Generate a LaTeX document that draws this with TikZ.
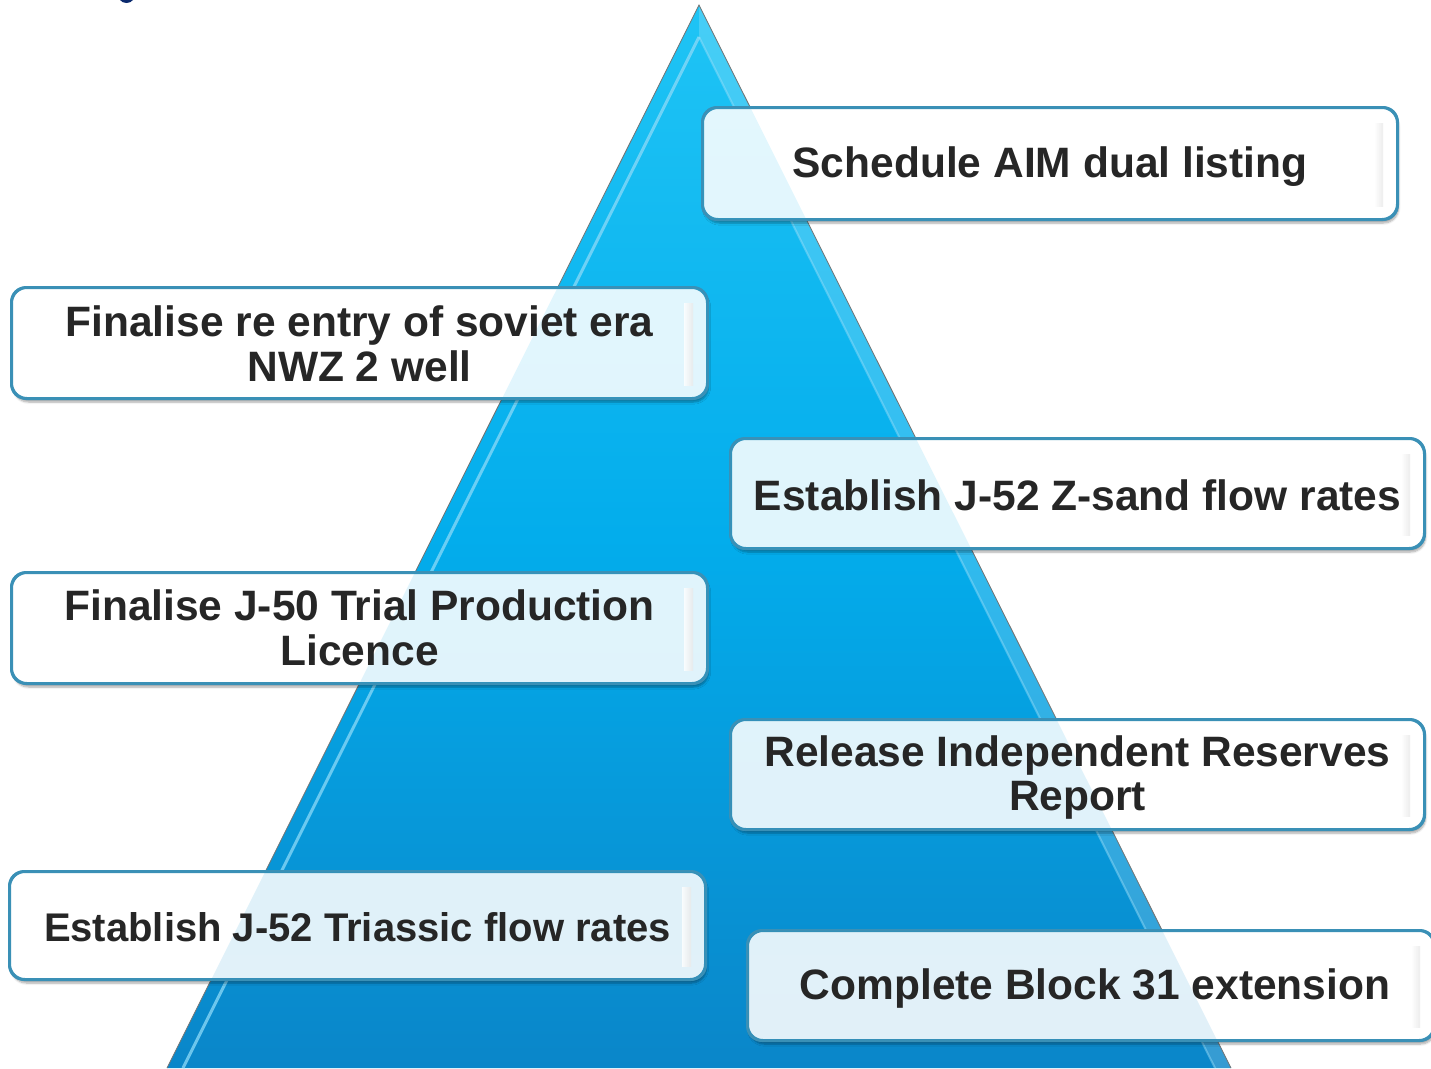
\documentclass[tikz,border=0pt]{standalone}
\usepackage{fontspec}
\setmainfont{Liberation Sans}
\usetikzlibrary{shadows.blur}
\definecolor{tritop}{HTML}{1FC4F5}
\definecolor{trimid}{HTML}{03ADEC}
\definecolor{tribot}{HTML}{0A86C9}
\definecolor{boxline}{HTML}{3A90B6}
\definecolor{txt}{HTML}{262626}
\definecolor{navy}{HTML}{0B2A6E}
\tikzset{
  boxshape/.style={draw=boxline, line width=2pt, rounded corners=15pt,
    fill=white, inner sep=0pt,
    blur shadow={shadow blur steps=6, shadow xshift=1.5pt, shadow yshift=-4pt, shadow opacity=35}},
  boxtext/.style={text=txt, font=\fontsize{42.5}{44.5}\selectfont\bfseries, align=center, inner sep=0pt},
  smalltext/.style={boxtext, font=\fontsize{40}{42}\selectfont\bfseries},
}
\newcommand{\pyr}[1]{%
  \shade[top color=tritop, bottom color=tribot, middle color=trimid, #1] (apex) -- (bl) -- (br) -- cycle;}
\newcommand{\goalbox}[5]{% name, center, width, height, border-only redraw
  \node[boxshape, minimum width=#3, minimum height=#4] (#1) at #2 {};
  \begin{scope}
    \clip[rounded corners=15pt] (#1.south west) rectangle (#1.north east);
    \pyr{opacity=0.12}
    \shade[left color=white, right color=black!9, opacity=0.8] ([xshift=-24pt,yshift=-16pt]#1.north east) rectangle ([xshift=-15pt,yshift=14pt]#1.south east);
  \end{scope}
  \draw[boxline, line width=2pt, rounded corners=15pt] (#1.south west) rectangle (#1.north east);
}
\begin{document}
\begin{tikzpicture}[x=1pt,y=-1pt]
\useasboundingbox (0,0) rectangle (1431,1068);
% title fragment
\fill[navy] (120,0) .. controls (123,4) and (130,4) .. (133,0) -- cycle;
% pyramid
\coordinate (apex) at (699,5);
\coordinate (bl) at (167,1068);
\coordinate (br) at (1231,1068);
\coordinate (iapex) at (699,37);
\coordinate (ibl) at (183,1068);
\coordinate (ibr) at (1215,1068);
\pyr{}
\fill[white, opacity=0.18] (apex) -- (iapex) -- (ibr) -- (br) -- cycle;
\draw[white!55!cyan, opacity=0.75, line width=3pt] (ibl) -- (iapex);
\draw[white!60!cyan, opacity=0.45, line width=2pt] (iapex) -- (ibr);
\draw[black!55, line width=0.8pt] (bl) -- (apex) -- (br);
% boxes
\goalbox{b1}{(1050,163.5)}{694pt}{111pt}{}
\goalbox{b2}{(359.5,343)}{695pt}{110pt}{}
\goalbox{b3}{(1077.5,493.5)}{693pt}{109pt}{}
\goalbox{b4}{(359.5,628)}{695pt}{110pt}{}
\goalbox{b5}{(1077.5,774.5)}{693pt}{109pt}{}
\goalbox{b6}{(357.5,925.5)}{695pt}{107pt}{}
\goalbox{b7}{(1091,985.5)}{686pt}{109pt}{}
% texts
\node[boxtext] (t1) at ([yshift=-3pt]b1.center) {Schedule AIM dual listing};
\node[boxtext] (t2) at ([yshift=-1pt]b2.center) {Finalise re entry of soviet era\\NWZ 2 well};
\node[boxtext] (t3) at ([yshift=-2pt]b3.center) {Establish J-52 Z-sand flow rates};
\node[boxtext] (t4) at (b4.center) {Finalise J-50 Trial Production\\Licence};
\node[boxtext] (t5) at ([yshift=-3pt]b5.center) {Release Independent Reserves\\Report};
\node[smalltext] (t6) at ([yshift=-2pt]b6.center) {Establish J-52 Triassic flow rates};
\node[boxtext] (t7) at ([xshift=4pt,yshift=-3pt]b7.center) {Complete Block 31 extension};
\end{tikzpicture}
\end{document}
